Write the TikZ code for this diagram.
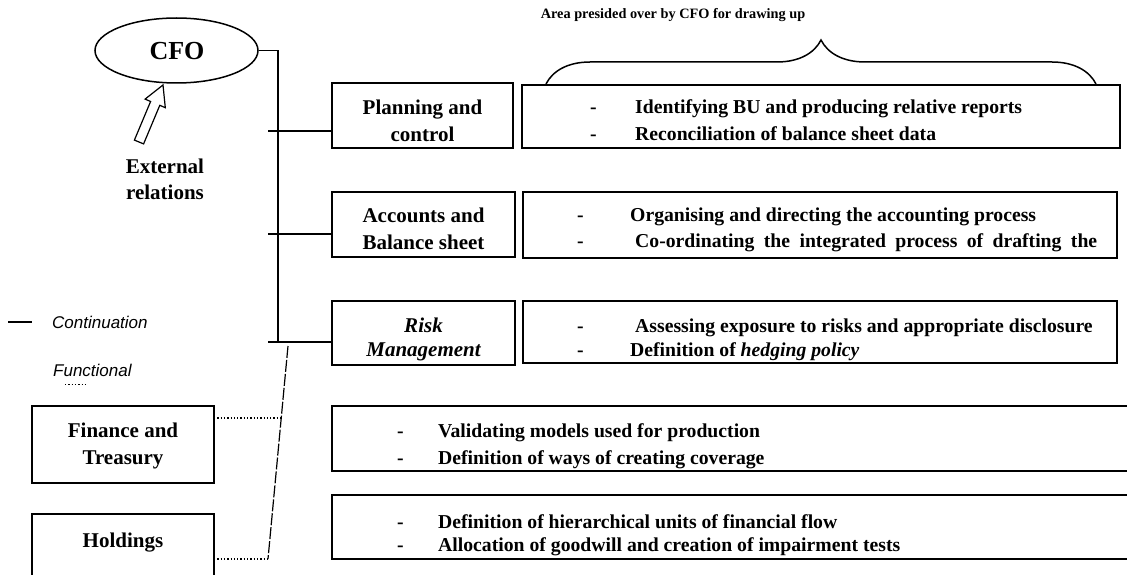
\documentclass[tikz,border=0pt]{standalone}
\usepackage{fontspec}
\setmainfont{Liberation Serif}
\newfontfamily\legendfont{Liberation Sans}
\usetikzlibrary{shapes.geometric,decorations.pathreplacing}

\begin{document}
\begin{tikzpicture}[x=1pt,y=-1pt,
  box/.style={draw, rectangle, line width=1.8pt, inner sep=0pt, outer sep=0pt},
  unitlabel/.style={font=\bfseries\fontsize{21}{25}\selectfont, anchor=base, inner sep=0pt},
  duty/.style={font=\bfseries\fontsize{19.7}{23}\selectfont, anchor=base west, inner sep=0pt},
  legendtext/.style={font=\legendfont\itshape\fontsize{17}{20}\selectfont, anchor=base west, inner sep=0pt},
  branch/.style={line width=1.6pt},
  functional/.style={line width=1.3pt, dotted},
]
\useasboundingbox (0,0) rectangle (1127,575);
\clip (0,0) rectangle (1127,575);

% --- CFO and external relations ---
\node[draw, ellipse, line width=1.5pt, minimum width=163pt, minimum height=65pt, inner sep=0pt] (cfo) at (176.5,50.5) {};
\node[font=\bfseries\fontsize{26}{30}\selectfont, anchor=base, inner sep=0pt] (cfolabel) at (177,60) {CFO};
\draw[line width=1.2pt, fill=white] (163,85) -- (165.3,107.7) -- (159.8,105.3) -- (143.6,143.9)
  -- (134.4,140.1) -- (150.6,101.5) -- (145.1,99.1) -- cycle;
\node[unitlabel] (extA) at (165,174) {External};
\node[unitlabel] (extB) at (165,199) {relations};

% --- heading and brace over the duties ---
\node[font=\bfseries\fontsize{14.3}{17}\selectfont, anchor=base, inner sep=0pt] (area) at (673,19) {Area presided over by CFO for drawing up};
\draw[line width=1.5pt, decorate, decoration={brace, amplitude=44pt}] (546,84) -- (1096,84);

% --- functions reporting to the CFO ---
\node[box, minimum width=181pt, minimum height=65pt] (planning) at (422.5,115.5) {};
\node[unitlabel] (planA) at (422.5,115) {Planning and};
\node[unitlabel] (planB) at (422.5,142) {control};

\node[box, minimum width=183pt, minimum height=65pt] (accounts) at (423.5,224.5) {};
\node[unitlabel] (accA) at (423.5,222) {Accounts and};
\node[unitlabel] (accB) at (423.5,249) {Balance sheet};

\node[box, minimum width=183pt, minimum height=64pt] (risk) at (423.5,333) {};
\node[unitlabel, font=\bfseries\itshape\fontsize{21}{25}\selectfont] (riskA) at (423.5,332) {Risk};
\node[unitlabel, font=\bfseries\itshape\fontsize{21}{25}\selectfont] (riskB) at (423.5,356) {Management};

\node[box, minimum width=182pt, minimum height=77pt] (finance) at (123,444.5) {};
\node[unitlabel] (finA) at (123,437) {Finance and};
\node[unitlabel] (finB) at (123,464) {Treasury};

\node[box, minimum width=182pt, minimum height=106pt] (holdings) at (123,567) {};
\node[unitlabel] (holdA) at (123,547) {Holdings};

% --- duties ---
\node[box, minimum width=598pt, minimum height=63pt] (planDuty) at (821,116.5) {};
\node[duty] (pd1) at (590,114) {\makebox[45pt][l]{-}Identifying BU and producing relative reports};
\node[duty] (pd2) at (590,141) {\makebox[45pt][l]{-}Reconciliation of balance sheet data};

\node[box, minimum width=594pt, minimum height=66pt] (accDuty) at (820,225) {};
\node[duty] (ad1) at (577,221) {\makebox[53pt][l]{-}Organising and directing the accounting process};
\node[duty] (ad2) at (577,247) {\makebox[58pt][l]{-}\makebox[462pt][s]{Co-ordinating the integrated process of drafting the}};

\node[box, minimum width=594pt, minimum height=62pt] (riskDuty) at (820,332) {};
\node[duty] (rd1) at (577,332) {\makebox[58pt][l]{-}Assessing exposure to risks and appropriate disclosure};
\node[duty] (rd2) at (577,356) {\makebox[53pt][l]{-}Definition of \textit{hedging policy}};

\node[box, minimum width=808pt, minimum height=65pt] (finDuty) at (736,438.5) {};
\node[duty] (fd1) at (397,437) {\makebox[41pt][l]{-}Validating models used for production};
\node[duty] (fd2) at (397,464) {\makebox[41pt][l]{-}Definition of ways of creating coverage};

\node[box, minimum width=808pt, minimum height=64pt] (holdDuty) at (736,527) {};
\node[duty] (hd1) at (397,528) {\makebox[41pt][l]{-}Definition of hierarchical units of financial flow};
\node[duty] (hd2) at (397,551) {\makebox[41pt][l]{-}Allocation of goodwill and creation of impairment tests};

% --- reporting lines (continuation) ---
\coordinate (trunkTop) at (278,50.5);
\coordinate (trunkBot) at (278,342);
\draw[line width=1.8pt] (cfo.east) -- (trunkTop);
\draw[line width=1.3pt] (trunkTop) -- (trunkBot);
\coordinate (stubP) at (268,131);
\coordinate (stubA) at (268,234);
\coordinate (stubR) at (268,342);
\draw[branch] (stubP) -- (stubP -| planning.west);
\draw[branch] (stubA) -- (stubA -| accounts.west);
\draw[branch] (stubR) -- (stubR -| risk.west);

% --- functional lines ---
\coordinate (slantTop) at (288,346);
\coordinate (slantBot) at (268,559);
\coordinate (finJoin) at (281.2,418);
\draw[line width=1.2pt, dash pattern=on 12pt off 2pt] (slantTop) -- (slantBot);
\draw[functional] (finance.east |- finJoin) -- (finJoin);
\draw[functional] (holdings.east |- slantBot) -- (slantBot);

% --- legend ---
\coordinate (legA) at (8,322);
\coordinate (legB) at (32,322);
\draw[line width=1.2pt] (legA) -- (legB);
\node[legendtext] (cont) at (52,328) {Continuation};
\node[legendtext] (func) at (53,376) {Functional};
\coordinate (legC) at (65,384);
\coordinate (legD) at (87,384);
\draw[functional, line width=1pt] (legC) -- (legD);
\end{tikzpicture}
\end{document}
